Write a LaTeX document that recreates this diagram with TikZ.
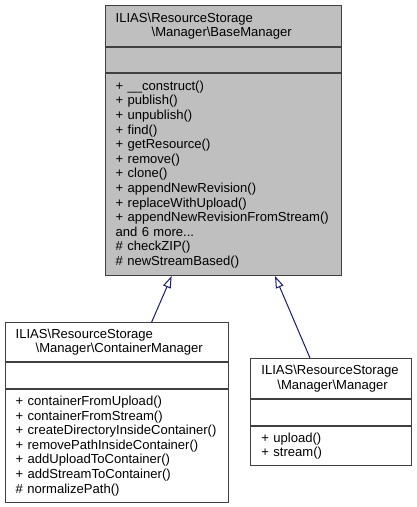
\documentclass[tikz,border=0pt]{standalone}
\usepackage{fontspec}
\setmainfont{Liberation Sans}
\usetikzlibrary{positioning,arrows.meta,calc}
\definecolor{midnightblue}{HTML}{191970}
\hyphenpenalty=10000
\exhyphenpenalty=10000
\hbadness=10000
\hfuzz=20pt
\begin{document}
\begin{tikzpicture}[x=0.75pt,y=-0.75pt,
        part/.style={draw=black!75,line width=0.75pt,fill=white,align=left,inner xsep=8pt,
            font=\fontsize{9.8}{10.95}\selectfont},
        current/.style={fill=black!25},
        inherit/.style={draw=midnightblue,line width=0.75pt,-{Triangle[open,length=9pt,width=6pt]}}]
    \useasboundingbox (0,0) rectangle (417,507);
    % BaseManager
    \node[part,current,anchor=north,minimum width=177pt,text width=161pt,minimum height=30.75pt] (baseT) at (223,5)
        {ILIAS\textbackslash ResourceStorage\\\hspace*{27pt}\textbackslash Manager\textbackslash BaseManager};
    \node[part,current,below=0pt of baseT,minimum width=177pt,text width=161pt,minimum height=18.75pt] (baseA) {};
    \node[part,current,below=0pt of baseA,minimum width=177pt,text width=161pt,minimum height=151.5pt] (baseM)
        {+~\_\_construct()\\+~publish()\\+~unpublish()\\+~find()\\+~getResource()\\+~remove()\\+~clone()\\
         +~appendNewRevision()\\+~replaceWithUpload()\\+~appendNewRevisionFromStream()\\and~6~more...\\
         \#~checkZIP()\\\#~newStreamBased()};
    % ContainerManager
    \node[part,anchor=north,minimum width=167.25pt,text width=151.25pt,minimum height=29.25pt] (cmgrT) at (116.5,322)
        {ILIAS\textbackslash ResourceStorage\\\hspace*{15pt}\textbackslash Manager\textbackslash ContainerManager};
    \node[part,below=0pt of cmgrT,minimum width=167.25pt,text width=151.25pt,minimum height=19.5pt] (cmgrA) {};
    \node[part,below=0pt of cmgrA,minimum width=167.25pt,text width=151.25pt,minimum height=84.75pt] (cmgrM)
        {+~containerFromUpload()\\+~containerFromStream()\\+~createDirectoryInsideContainer()\\
         +~removePathInsideContainer()\\+~addUploadToContainer()\\+~addStreamToContainer()\\\#~normalizePath()};
    % Manager
    \node[part,anchor=north,minimum width=120.75pt,text width=104.75pt,minimum height=30pt] (mgrT) at (331.2,358)
        {ILIAS\textbackslash ResourceStorage\\\hspace*{12pt}\textbackslash Manager\textbackslash Manager};
    \node[part,below=0pt of mgrT,minimum width=120.75pt,text width=104.75pt,minimum height=19.5pt] (mgrA) {};
    \node[part,below=0pt of mgrA,minimum width=120.75pt,text width=104.75pt,minimum height=29.25pt] (mgrM)
        {+~upload()\\+~stream()};
    % inheritance
    \draw[inherit] ([xshift=26.4pt]cmgrT.north) -- ([xshift=-38.5pt]baseM.south);
    \draw[inherit] ([xshift=-15.9pt]mgrT.north) -- ([xshift=39pt]baseM.south);
\end{tikzpicture}
\end{document}
